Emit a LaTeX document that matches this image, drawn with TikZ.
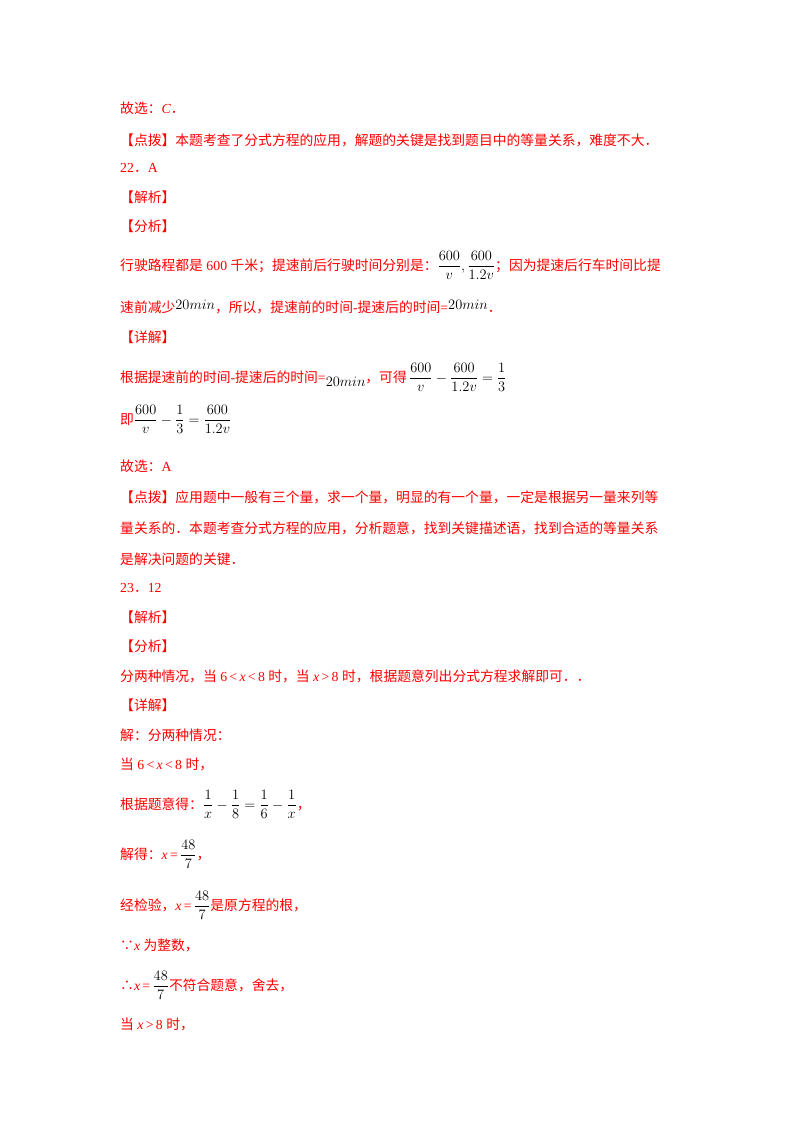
\documentclass[tikz,border=0pt]{standalone}
\usepackage{amsmath}
\usepackage{fontspec}
\setmainfont{Noto Sans CJK SC}
\newfontfamily\serifnum{Liberation Serif}
\newcommand{\bk}[1]{\textcolor{black}{$#1$}}
\newcommand{\nm}[1]{{\serifnum #1}}
\begin{document}
\begin{tikzpicture}[x=1pt,y=-1pt,
  txt/.style={anchor=base west,inner sep=0pt,text=red,font=\fontsize{13.8}{16}\selectfont}]
\useasboundingbox (0,0) rectangle (800,1132);
\node[txt] (l1) at (120,113) {故选：\textit{\nm{C}}．};
\node[txt] (l2) at (120,145) {【点拨】本题考查了分式方程的应用，解题的关键是找到题目中的等量关系，难度不大．};
\node[txt] (l3) at (120,172) {\nm{22}．\nm{A}};
\node[txt] (l4) at (120,202) {【解析】};
\node[txt] (l5) at (120,231) {【分析】};
\node[txt] (l6) at (120,270) {行驶路程都是\nm{ 600 }千米；提速前后行驶时间分别是：\bk{\dfrac{600}{v},\dfrac{600}{1.2v}}；因为提速后行车时间比提};
\node[txt] (l7) at (120,312) {速前减少\raisebox{3pt}{\bk{20min}}，所以，提速前的时间\nm{-}提速后的时间\nm{=}\raisebox{3pt}{\bk{20min}}．};
\node[txt] (l8) at (120,342) {【详解】};
\node[txt] (l9) at (120,382) {根据提速前的时间\nm{-}提速后的时间\nm{=}\raisebox{-4pt}{\bk{20min}}，可得\,\bk{\dfrac{600}{v}-\dfrac{600}{1.2v}=\dfrac{1}{3}}};
\node[txt] (l10) at (120,424) {即\bk{\dfrac{600}{v}-\dfrac{1}{3}=\dfrac{600}{1.2v}}};
\node[txt] (l11) at (120,471) {故选：\nm{A}};
\node[txt] (l12) at (120,502) {【点拨】应用题中一般有三个量，求一个量，明显的有一个量，一定是根据另一量来列等};
\node[txt] (l13) at (120,533) {量关系的．本题考查分式方程的应用，分析题意，找到关键描述语，找到合适的等量关系};
\node[txt] (l14) at (120,564) {是解决问题的关键．};
\node[txt] (l15) at (120,592) {\nm{23}．\nm{12}};
\node[txt] (l16) at (120,622) {【解析】};
\node[txt] (l17) at (120,651) {【分析】};
\node[txt] (l18) at (120,681) {分两种情况，当\nm{ 6\,<\,\textit{x}\,<\,8 }时，当\nm{ \textit{x}\,>\,8 }时，根据题意列出分式方程求解即可．．};
\node[txt] (l19) at (120,710) {【详解】};
\node[txt] (l20) at (120,740) {解：分两种情况：};
\node[txt] (l21) at (120,769) {当\nm{ 6\,<\,\textit{x}\,<\,8 }时，};
\node[txt] (l22) at (120,809) {根据题意得：\bk{\dfrac{1}{x}-\dfrac{1}{8}=\dfrac{1}{6}-\dfrac{1}{x}}，};
\node[txt] (l23) at (120,859) {解得：\nm{\textit{x}\,=\,}\bk{\dfrac{48}{7}}，};
\node[txt] (l24) at (120,910) {经检验，\nm{\textit{x}\,=\,}\bk{\dfrac{48}{7}}是原方程的根，};
\node[txt] (l25) at (120,950) {∵\nm{\textit{x} }为整数，};
\node[txt] (l26) at (120,990) {∴\nm{\textit{x}\,=\,}\bk{\dfrac{48}{7}}不符合题意，舍去，};
\node[txt] (l27) at (120,1029) {当\nm{ \textit{x}\,>\,8 }时，};
\end{tikzpicture}
\end{document}
